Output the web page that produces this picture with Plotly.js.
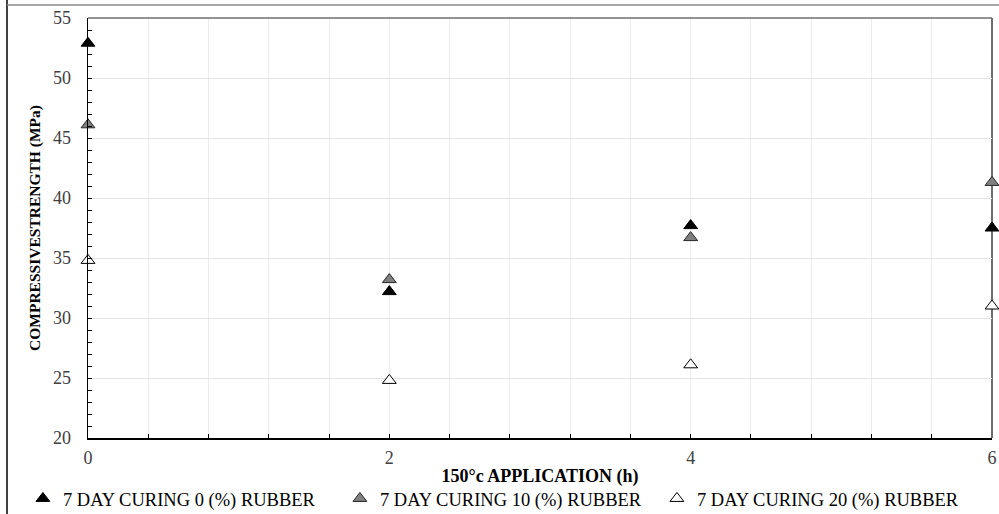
<!DOCTYPE html>
<html>
<head>
<meta charset="utf-8">
<script src="https://cdn.plot.ly/plotly-3.0.1.min.js"></script>
<style>html,body{margin:0;padding:0;background:#fff;}#chart{width:999px;height:514px;}</style>
</head>
<body>
<div id="chart"></div>
<script>
const hours = [0, 2, 4, 6];
const rubber0 = [52.9, 32.2, 37.7, 37.5];
const rubber10 = [46.1, 33.2, 36.7, 41.3];
const rubber20 = [34.8, 24.8, 26.1, 31.0];
const seriesNames = [
  "7 DAY CURING 0 (%) RUBBER",
  "7 DAY CURING 10 (%) RUBBER",
  "7 DAY CURING 20 (%) RUBBER"
];
const xTitle = "150°c APPLICATION (h)";
const yTitle = "COMPRESSIVESTRENGTH (MPa)";

const fontFam = "Liberation Serif";
function tr(y, name, fill, line) {
  return {
    x: hours, y: y, name: name, type: "scatter", mode: "markers",
    cliponaxis: false,
    marker: {symbol: "triangle-up", size: 12, color: fill, line: {color: line, width: 1}}
  };
}
const data = [
  tr(rubber0, seriesNames[0], "#000000", "#000000"),
  tr(rubber10, seriesNames[1], "#808080", "#262626"),
  tr(rubber20, seriesNames[2], "#ffffff", "#000000")
];
const layout = {
  width: 999, height: 514,
  margin: {l: 88, r: 7, t: 18, b: 76, autoexpand: false},
  paper_bgcolor: "#fff", plot_bgcolor: "#fff",
  font: {family: fontFam, size: 18, color: "#000"},
  showlegend: true,
  legend: {
    orientation: "h", xref: "paper", yref: "paper",
    x: -0.072, xanchor: "left", y: -0.145, yanchor: "middle",
    bgcolor: "rgba(0,0,0,0)",
    font: {family: fontFam, size: 18.5, color: "#000"},
    entrywidth: 272, entrywidthmode: "pixels",
    itemwidth: 30, tracegroupgap: 0
  },
  xaxis: {
    range: [0, 6], tickvals: [0, 2, 4, 6], ticktext: ["0", "2", "4", "6"],
    showgrid: true, gridcolor: "#ececec", gridwidth: 1,
    ticks: "inside", ticklen: 4, tickcolor: "#000",
    showline: true, linecolor: "#000", linewidth: 1.5,
    zeroline: false,
    tickfont: {family: fontFam, size: 18, color: "#404040"},
    ticklabelstandoff: 3,
    automargin: true,
    minor: {dtick: 0.4, tick0: 0, ticks: "inside", ticklen: 4, tickcolor: "#000", showgrid: true, gridcolor: "#ececec", gridwidth: 1},
    title: {text: "<b>" + xTitle + "</b>", font: {family: fontFam, size: 18, color: "#000"}, standoff: 2}
  },
  yaxis: {
    range: [20, 55], dtick: 5, tick0: 20,
    showgrid: true, gridcolor: "#e3e3e3", gridwidth: 1,
    ticks: "inside", ticklen: 4, tickcolor: "#000",
    showline: true, linecolor: "#000", linewidth: 1.5,
    zeroline: false,
    tickfont: {family: fontFam, size: 18, color: "#404040"},
    ticklabelstandoff: 12,
    automargin: false,
    minor: {dtick: 1, ticks: "inside", ticklen: 4, tickcolor: "#000", showgrid: false},
    title: {text: "<b>" + yTitle + "</b>", font: {family: fontFam, size: 15.5, color: "#000"}, standoff: 8}
  },
  shapes: [
    {type: "line", xref: "paper", yref: "paper", x0: 0, x1: 1, y0: 1, y1: 1, line: {color: "#6e6e6e", width: 1.5}},
    {type: "line", xref: "paper", yref: "paper", x0: 1, x1: 1, y0: 0, y1: 1, line: {color: "#6e6e6e", width: 2}, layer: "below"},
    {type: "line", xref: "paper", yref: "paper", x0: -0.0896, x1: -0.0896, y0: -0.181, y1: 1.043, line: {color: "#000", width: 1.5}},
    {type: "line", xref: "paper", yref: "paper", x0: -0.0896, x1: 1.008, y0: 1.031, y1: 1.031, line: {color: "#8a8a8a", width: 1.5}}
  ]
};
Plotly.newPlot("chart", data, layout, {displayModeBar: false, staticPlot: true});
</script>
</body>
</html>
